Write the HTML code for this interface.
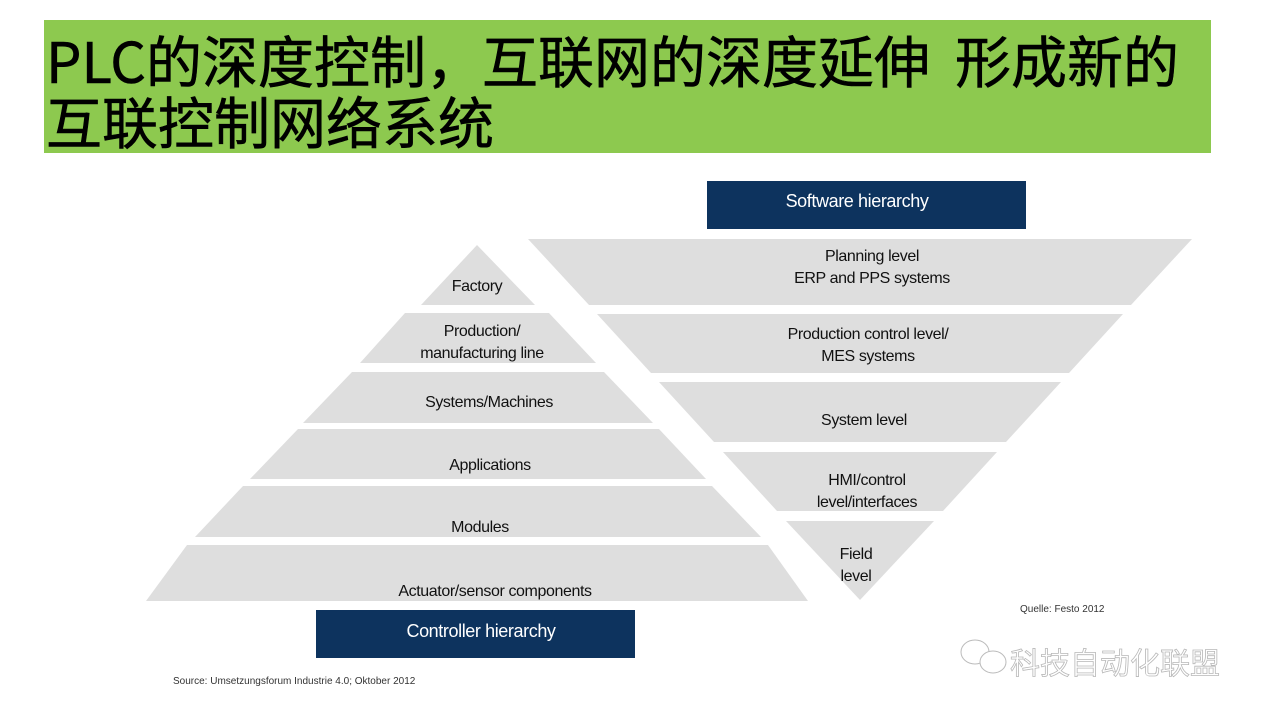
<!DOCTYPE html>
<html><head><meta charset="utf-8"><style>
html,body{margin:0;padding:0;background:#fff;}
body{width:1280px;height:720px;position:relative;overflow:hidden;font-family:"Liberation Sans","Noto Sans CJK SC",sans-serif;}
.banner{position:absolute;left:44px;top:20px;width:1167px;height:133px;background:#8dc94f;}
.t{position:absolute;left:46px;font-family:"Noto Sans CJK SC",sans-serif;font-size:56px;font-weight:400;color:#000;white-space:pre;line-height:60px;-webkit-text-stroke:0.6px #000;}
svg{position:absolute;left:0;top:0;}
svg text.n{letter-spacing:-0.4px;}
</style></head><body>
<div class="banner"></div>
<div class="t" style="top:30px;">PLC的深度控制，互联网的深度延伸  形成新的</div>
<div class="t" style="top:91px;">互联控制网络系统</div>
<svg width="1280" height="720" viewBox="0 0 1280 720" font-family="Liberation Sans, sans-serif">
<g fill="#dedede">
<polygon points="477,245 535,305 421,305"/>
<polygon points="405,313 549,313 596,363 360,363"/>
<polygon points="352,372 604,372 653,423 303,423"/>
<polygon points="298,429 659,429 706,479 250,479"/>
<polygon points="243,486 712,486 761,537 195,537"/>
<polygon points="187,545 768,545 808,601 146,601"/>
<polygon points="528,239 1192,239 1131,305 589,305"/>
<polygon points="597,314 1123,314 1069,373 651,373"/>
<polygon points="659,382 1061,382 1006,442 714,442"/>
<polygon points="723,452 997,452 943,511 777,511"/>
<polygon points="786,521 934,521 860,600"/>
</g>
<rect x="707" y="181" width="319" height="48" fill="#0d335e"/>
<rect x="316" y="610" width="319" height="48" fill="#0d335e"/>
<g fill="#fff" font-size="18" text-anchor="middle">
<text class="n" x="857" y="207">Software hierarchy</text>
<text class="n" x="481" y="637">Controller hierarchy</text>
</g>
<g fill="#111" font-size="16" text-anchor="middle">
<text class="n" x="477" y="291">Factory</text>
<text class="n" x="482" y="336">Production/</text>
<text class="n" x="482" y="358">manufacturing line</text>
<text class="n" x="489" y="407">Systems/Machines</text>
<text class="n" x="490" y="470">Applications</text>
<text class="n" x="480" y="532">Modules</text>
<text class="n" x="495" y="596">Actuator/sensor components</text>
<text class="n" x="872" y="261">Planning level</text>
<text class="n" x="872" y="283">ERP and PPS systems</text>
<text class="n" x="868" y="339">Production control level/</text>
<text class="n" x="868" y="361">MES systems</text>
<text class="n" x="864" y="425">System level</text>
<text class="n" x="867" y="485">HMI/control</text>
<text class="n" x="867" y="507">level/interfaces</text>
<text class="n" x="856" y="559">Field</text>
<text class="n" x="856" y="581">level</text>
</g>
<text x="1020" y="612" font-size="10" fill="#333">Quelle: Festo 2012</text>
<text x="173" y="684" font-size="10" fill="#333">Source: Umsetzungsforum Industrie 4.0; Oktober 2012</text>
<g fill="#fff" stroke="#bbb" stroke-width="1">
<ellipse cx="975" cy="652" rx="14" ry="12"/>
<ellipse cx="993" cy="662" rx="13" ry="11"/>
</g>
<text x="1010" y="674" font-size="30" fill="#fff" stroke="#b8b8b8" stroke-width="0.8" font-family="Noto Sans CJK SC, sans-serif">科技自动化联盟</text>
</svg>
</body></html>
